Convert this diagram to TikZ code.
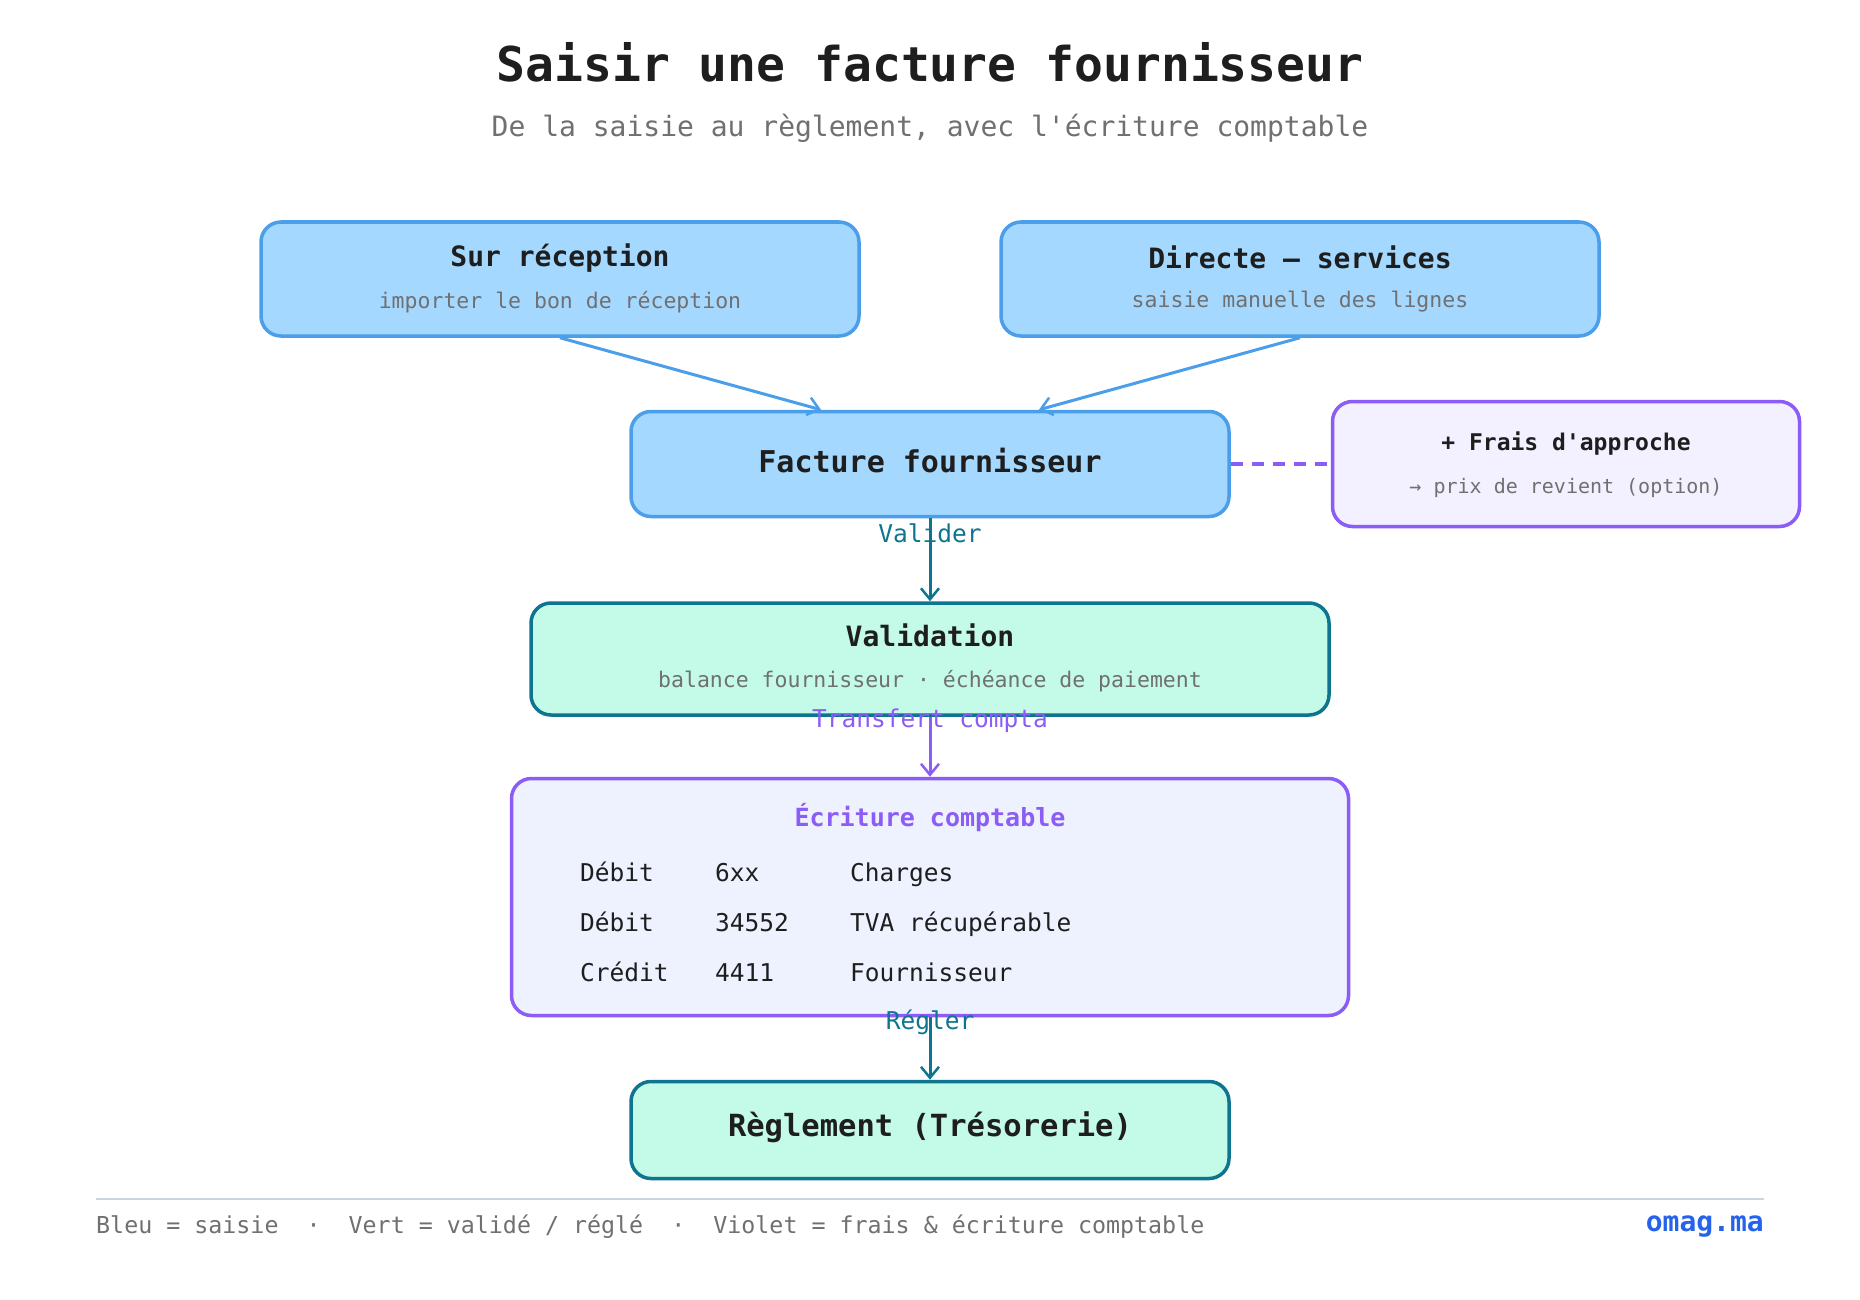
\documentclass[tikz,border=0pt]{standalone}
\usepackage{fontspec}
\setmainfont{DejaVu Sans Mono}[Ligatures=TeXOff]
\setmonofont{DejaVu Sans Mono}
\usetikzlibrary{arrows.meta,calc}
\definecolor{bfill}{HTML}{A5D8FF}
\definecolor{bline}{HTML}{4A9EEA}
\definecolor{gfill}{HTML}{C3FAE8}
\definecolor{teal}{HTML}{0E7490}
\definecolor{purp}{HTML}{8B5CF6}
\definecolor{pfill}{HTML}{F3F0FF}
\definecolor{efill}{HTML}{EEF2FF}
\definecolor{ink}{HTML}{1E1E1E}
\definecolor{soft}{HTML}{707070}
\definecolor{rule}{HTML}{CBD5E1}
\definecolor{brand}{HTML}{2563EB}
\newcommand{\fs}[1]{\fontsize{#1}{#1}\selectfont}
\tikzset{
  box/.style={draw, rounded corners=20pt, line width=3.5pt, inner sep=0pt},
  bluebox/.style={box, draw=bline, fill=bfill},
  greenbox/.style={box, draw=teal, fill=gfill},
  purplebox/.style={box, draw=purp, fill=pfill},
  ecbox/.style={box, draw=purp, fill=efill},
  hd/.style={font=\fs{28}\bfseries, text=ink, inner sep=0pt},
  sub/.style={font=\fs{21.5}, text=soft, inner sep=0pt},
  lbl/.style={font=\fs{24.5}, inner sep=0pt},
  arr/.style={line width=3pt, -{Straight Barb[length=11pt,width=18pt,line width=2.5pt]}},
}
\begin{document}
\begin{tikzpicture}[x=1pt,y=-1pt]
\fill[white] (0,0) rectangle (1860,1300);
\useasboundingbox (0,0) rectangle (1860,1300);

% title
\node[font=\fs{48}\bfseries, text=ink] (title) at (930,62) {Saisir une facture fournisseur};
\node[font=\fs{28}, text=soft] (subtitle) at (930,128) {De la saisie au règlement, avec l'écriture comptable};

% boxes
\node[bluebox, minimum width=598pt, minimum height=114pt] (b1) at (560,279) {};
\node[hd] (b1t) at (560,258) {Sur réception};
\node[sub] (b1s) at (560,302) {importer le bon de réception};

\node[bluebox, minimum width=598pt, minimum height=114pt] (b2) at (1300,279) {};
\node[hd] (b2t) at (1300,257) {Directe — services};
\node[sub] (b2s) at (1300,302) {saisie manuelle des lignes};

\node[bluebox, minimum width=598pt, minimum height=105pt] (fact) at (930,464) {};
\node[hd, font=\fs{30}\bfseries] (factt) at (930,461) {Facture fournisseur};

\node[purplebox, minimum width=467pt, minimum height=125pt] (frais) at (1566,464) {};
\node[hd, font=\fs{23}\bfseries] (fraist) at (1566,444) {+ Frais d'approche};
\node[sub, font=\fs{20}] (fraiss) at (1566,488) {→ prix de revient (option)};

\node[greenbox, minimum width=798pt, minimum height=112pt] (valid) at (930,659) {};
\node[hd] (validt) at (930,635) {Validation};
\node[sub] (valids) at (930,681) {balance fournisseur · échéance de paiement};

\node[ecbox, minimum width=837pt, minimum height=237pt] (ecr) at (930,897) {};
\node[hd, font=\fs{25}\bfseries, text=purp] (ecrt) at (930,818) {Écriture comptable};
\node[lbl, text=ink, anchor=base west] (r1) at (580,881) {\makebox[135pt][l]{Débit}\makebox[135pt][l]{6xx}Charges};
\node[lbl, text=ink, anchor=base west] (r2) at (580,931) {\makebox[135pt][l]{Débit}\makebox[135pt][l]{34552}TVA récupérable};
\node[lbl, text=ink, anchor=base west] (r3) at (580,981) {\makebox[135pt][l]{Crédit}\makebox[135pt][l]{4411}Fournisseur};

\node[greenbox, minimum width=598pt, minimum height=97pt] (regl) at (930,1130) {};
\node[hd, font=\fs{30.5}\bfseries] (reglt) at (930,1127) {Règlement (Trésorerie)};

% connector labels
\node[lbl, text=teal] (lv) at (930,533) {Valider};
\node[lbl, text=purp] (lt) at (930,721) {Transfert compta};
\node[lbl, text=teal] (lr) at (930,1022) {Régler};

% connectors
\coordinate (f1) at ($(fact.north)+(-109,0)$);
\coordinate (f2) at ($(fact.north)+(109,0)$);
\draw[arr, draw=bline] (b1.south) -- (f1);
\draw[arr, draw=bline] (b2.south) -- (f2);
\draw[line width=4pt, draw=purp, dash pattern=on 12pt off 9pt] (fact.east) -- (frais.west);
\draw[arr, draw=teal] (fact.south) -- (valid.north);
\draw[arr, draw=purp] (valid.south) -- (ecr.north);
\draw[arr, draw=teal] (ecr.south) -- (regl.north);

% footer
\coordinate (fl) at (96,1199);
\coordinate (fr) at (1764,1199);
\draw[rule, line width=2pt] (fl) -- (fr);
\node[font=\fs{23.3}, text=soft, anchor=west, inner sep=0pt] (legend) at (96,1227) {Bleu = saisie~~·~~Vert = validé / réglé~~·~~Violet = frais \& écriture comptable};
\node[font=\fs{28}\bfseries, text=brand, anchor=east, inner sep=0pt] (brandn) at (1764,1227) {omag.ma};
\end{tikzpicture}
\end{document}
